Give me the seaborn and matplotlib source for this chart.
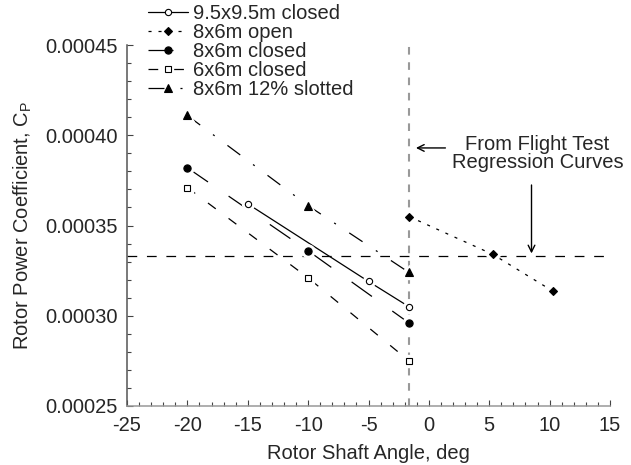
import matplotlib
matplotlib.use('Agg')
import matplotlib.pyplot as plt
from matplotlib.ticker import MultipleLocator, FormatStrFormatter
import seaborn as sns

# values
labels = ['9.5x9.5m closed', '8x6m open', '8x6m closed', '6x6m closed', '8x6m 12% slotted']
x_95 = [-15, -5, -1.65]
cp_95 = [0.000362, 0.000319, 0.000305]
x_86open = [-1.65, 5.3, 10.3]
cp_86open = [0.000355, 0.000334, 0.0003135]
x_86 = [-20, -10, -1.65]
cp_86 = [0.000382, 0.000336, 0.000296]
x_66 = [-20, -10, -1.65]
cp_66 = [0.000371, 0.000321, 0.000275]
x_slot = [-20, -10, -1.65]
cp_slot = [0.000411, 0.000361, 0.000324]

# flight test regression values
flight_alpha = -1.65
flight_cp = 0.000333

sns.set_theme(style='ticks')
plt.rcParams['font.family'] = ['Liberation Sans', 'DejaVu Sans']
plt.rcParams['mathtext.fontset'] = 'custom'
plt.rcParams['mathtext.rm'] = 'Liberation Sans'
plt.rcParams['lines.scale_dashes'] = False
plt.rcParams['axes.unicode_minus'] = False
fs = 14.5

fig = plt.figure(figsize=(6.31, 4.65), dpi=100)
ax = fig.add_axes([0.2013, 0.127, 0.7654, 0.776])

xs_all = [x_95, x_86open, x_86, x_66, x_slot]
ys_all = [cp_95, cp_86open, cp_86, cp_66, cp_slot]
markers = ['o', 'D', 'o', 's', '^']
fills = ['white', 'black', 'black', 'white', 'black']
sizes = [4.5, 4.2, 5.2, 5.0, 5.5]
styles = ['-', (0, (2.2, 5)), (0, (18, 18)), (0, (7, 11.5)), (0, (11.5, 11.5, 1.5, 11.5))]

for xs, ys, lab, mk, fc, ms, ls in zip(xs_all, ys_all, labels, markers, fills, sizes, styles):
    sns.lineplot(x=xs, y=ys, ax=ax, color='black', lw=0.9, linestyle=ls,
                 marker=mk, mfc=fc, mec='black', mew=0.8, ms=ms, label=lab, zorder=3)
    # white halo so the lines stop short of the symbols
    ax.plot(xs, ys, ls='none', marker=mk, ms=ms + 4, mfc='white', mec='white', zorder=4)
    ax.plot(xs, ys, ls='none', marker=mk, ms=ms, mfc=fc, mec='black', mew=0.8, zorder=5)

ax.axhline(flight_cp, color='black', lw=0.9, dashes=(7, 7), zorder=2)
ax.axvline(flight_alpha, color='#999999', lw=1.5, dashes=(5.5, 5.5), zorder=2)

ax.text(9.0, 0.000390, 'From Flight Test\nRegression Curves', ha='center', va='center',
        fontsize=fs, linespacing=0.98)
ax.annotate('', xy=(-1.3, 0.000393), xytext=(1.6, 0.000393),
            arrowprops=dict(arrowstyle='->', color='black', lw=1))
ax.annotate('', xy=(8.5, flight_cp), xytext=(8.5, 0.000374),
            arrowprops=dict(arrowstyle='->', color='black', lw=1))

ax.set_xlim(-25, 15)
ax.set_ylim(0.00025, 0.00045)
ax.xaxis.set_major_locator(MultipleLocator(5))
ax.xaxis.set_minor_locator(MultipleLocator(1))
ax.yaxis.set_major_locator(MultipleLocator(0.00005))
ax.yaxis.set_minor_locator(MultipleLocator(0.00001))
ax.yaxis.set_major_formatter(FormatStrFormatter('%.5f'))
ax.tick_params(which='both', direction='in', color='#444444', labelsize=fs)
ax.tick_params(which='major', length=4.5, width=0.8)
ax.tick_params(which='minor', length=3, width=0.8)
ax.tick_params(axis='y', pad=7)
ax.tick_params(axis='x', pad=7)

sns.despine(ax=ax)
ax.spines['left'].set_color('#555555')
ax.spines['bottom'].set_color('#999999')
ax.spines['left'].set_linewidth(1.1)
ax.spines['bottom'].set_linewidth(1.1)

ax.set_xlabel('Rotor Shaft Angle, deg', fontsize=fs, labelpad=7)
ax.set_ylabel('Rotor Power Coefficient, C$_\\mathrm{P}$', fontsize=fs, labelpad=8)

handles, labs = ax.get_legend_handles_labels()
ax.get_legend().remove()
fig.legend(handles[:5], labs[:5], loc='upper left', bbox_to_anchor=(0.2345, 0.992),
           frameon=False, fontsize=fs, borderpad=0, borderaxespad=0,
           handlelength=2.0, handletextpad=0.25, labelspacing=0.0)

fig.savefig('out.png', dpi=100)
